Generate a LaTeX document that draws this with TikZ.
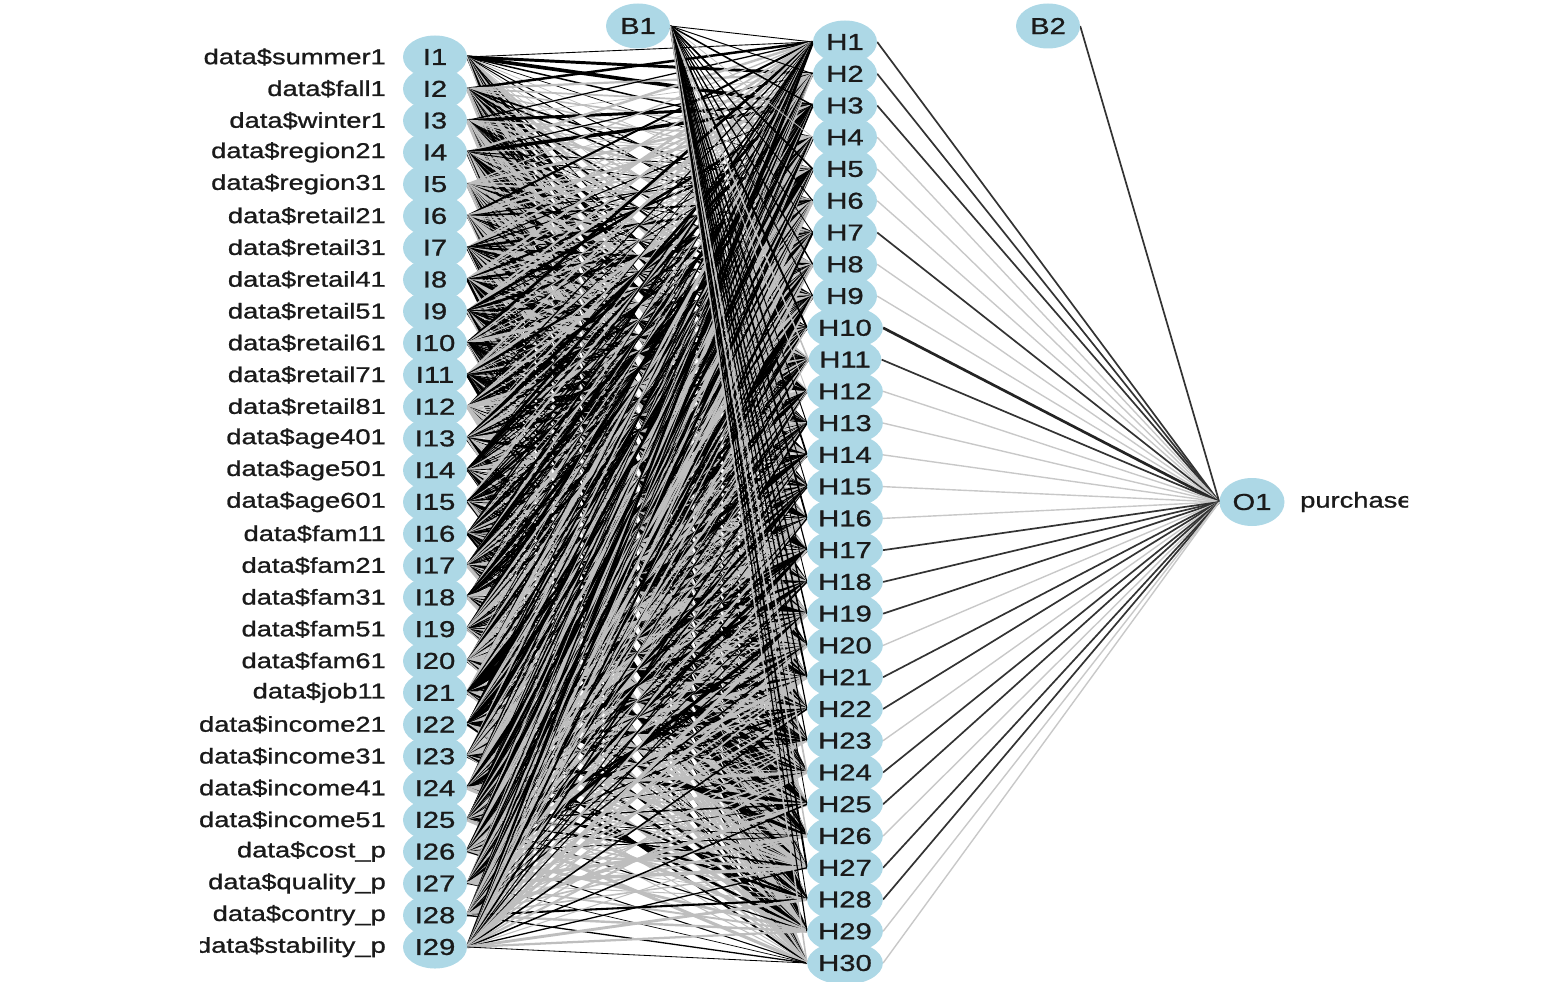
\documentclass[tikz,border=0pt]{standalone}
\usepackage{fontspec}
\setmainfont[FakeBold=0.9,BoldFont={Liberation Sans}]{Liberation Sans}
\usepackage{graphicx}
\usetikzlibrary{shapes.geometric,backgrounds}
\definecolor{nodeblue}{HTML}{ADD8E6}
\definecolor{txtcol}{HTML}{1A1A1A}
\definecolor{wpos}{HTML}{000000}
\definecolor{wneg}{HTML}{BEBEBE}
\definecolor{hpos}{HTML}{333333}
\definecolor{hneg}{HTML}{C8C8C8}
\newcommand{\sx}[1]{\scalebox{1.27}[1]{\bfseries #1}}
\begin{document}
\begin{tikzpicture}[x=1pt,y=-1pt,
  neuron/.style={ellipse, fill=nodeblue, inner sep=0pt, minimum width=64pt, minimum height=43pt, text=txtcol, font=\fontsize{23}{25}\selectfont},
  biasnode/.style={neuron, minimum height=45pt},
  outnode/.style={neuron, minimum width=65pt, minimum height=48pt},
  lbl/.style={inner sep=0pt, text=txtcol, font=\fontsize{21.5}{24}\selectfont},
]
\useasboundingbox (0,0) rectangle (1542,982);
\begin{scope}
\clip (200,0) rectangle (1408,982);
\foreach \lab [count=\i] in {data\$summer1,data\$fall1,data\$winter1,data\$region21,data\$region31,data\$retail21,data\$retail31,data\$retail41,data\$retail51,data\$retail61,data\$retail71,data\$retail81,data\$age401,data\$age501,data\$age601,data\$fam11,data\$fam21,data\$fam31,data\$fam51,data\$fam61,data\$job11,data\$income21,data\$income31,data\$income41,data\$income51,data\$cost\_p,data\$quality\_p,data\$contry\_p,data\$stability\_p}{
  \pgfmathsetmacro\yy{57+(\i-1)*31.786}
  \node[neuron] (I\i) at (435,\yy) {\sx{I\i}};
  \node[lbl, anchor=east] (L\i) at (386,\yy) {\sx{\lab}};
}
\foreach \h in {1,...,30}{
  \pgfmathsetmacro\yy{42+(\h-1)*31.759}
  \node[neuron] (H\h) at (845,\yy) {\sx{H\h}};
}
\node[biasnode] (B1) at (638,26) {\sx{B1}};
\node[biasnode] (B2) at (1048,26) {\sx{B2}};
\node[outnode] (O1) at (1252,502) {\sx{O1}};
\node[lbl, anchor=west] (P) at (1300,502) {\sx{purchase}};
\end{scope}
\begin{pgfonlayer}{background}
\pgfmathsetseed{1234}
\foreach \i in {1,...,29}{
  \foreach \h in {1,...,30}{
    \pgfmathsetmacro\w{0.7+3.2*rnd*rnd}
    \pgfmathsetmacro\c{rnd}
    \ifdim\c pt<0.5pt \def\col{wpos}\else\def\col{wneg}\fi
    \draw[line width=\w pt, draw=\col] (I\i.east) -- (H\h.west);
  }
}
\foreach \h in {1,...,30}{
  \pgfmathsetmacro\w{0.8+1.8*rnd*rnd}
  \pgfmathsetmacro\c{rnd}
  \ifdim\c pt<0.7pt \def\col{wpos}\else\def\col{wneg}\fi
  \draw[line width=\w pt, draw=\col] (B1.east) -- (H\h.west);
}
\foreach \s [count=\h] in {1,1,1,0,0,0,1,0,0,2,1,0,0,0,0,0,1,1,1,0,1,1,0,1,1,0,1,1,0,0}{
  \ifcase\s
    \draw[line width=1.4pt, draw=hneg] (H\h.east) -- (O1.west);
  \or
    \draw[line width=1.7pt, draw=hpos] (H\h.east) -- (O1.west);
  \or
    \draw[line width=2.7pt, draw=hpos!70!black] (H\h.east) -- (O1.west);
  \fi
}
\draw[line width=1.7pt, draw=hpos] (B2.east) -- (O1.west);
\end{pgfonlayer}
\end{tikzpicture}
\end{document}
